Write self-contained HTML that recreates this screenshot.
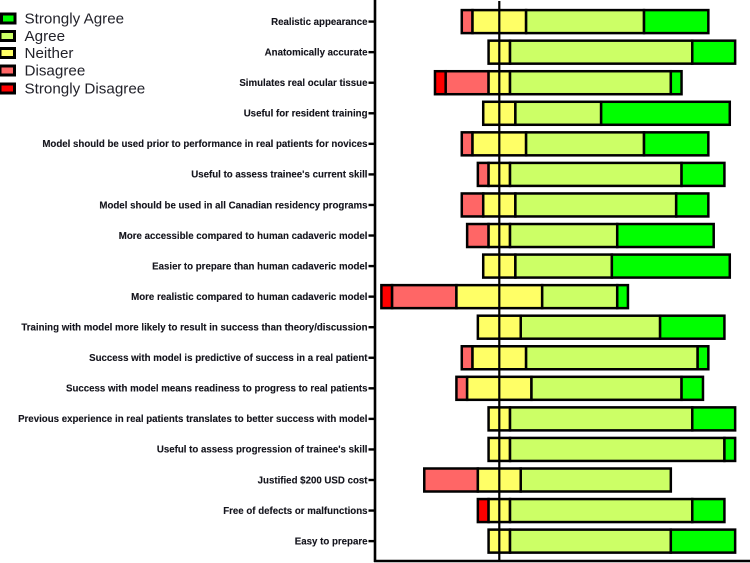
<!DOCTYPE html>
<html lang="en">
<head>
<meta charset="utf-8">
<title>Likert chart of model ratings</title>
<style>
  html, body { margin: 0; padding: 0; background: #fff; }
  body { width: 750px; height: 563px; overflow: hidden; }
  svg { display: block; font-family: "Liberation Sans", Arial, sans-serif; filter: blur(0.3px); }
  .tick-label { font-size: 9.7px; font-weight: bold; fill: #14141c; text-anchor: end; stroke: #14141c; stroke-width: 0.12px; }
  .legend-label { font-size: 15.2px; fill: #22222a; }
</style>
</head>
<body>
<svg id="chart" width="750" height="563" viewBox="0 0 750 563" xmlns="http://www.w3.org/2000/svg"></svg>
<script>
// Category labels, top to bottom
const categories = [
  "Realistic appearance",
  "Anatomically accurate",
  "Simulates real ocular tissue",
  "Useful for resident training",
  "Model should be used prior to performance in real patients for novices",
  "Useful to assess trainee's current skill",
  "Model should be used in all Canadian residency programs",
  "More accessible compared to human cadaveric model",
  "Easier to prepare than human cadaveric model",
  "More realistic compared to human cadaveric model",
  "Training with model more likely to result in success than theory/discussion",
  "Success with model is predictive of success in a real patient",
  "Success with model means readiness to progress to real patients",
  "Previous experience in real patients translates to better success with model",
  "Useful to assess progression of trainee's skill",
  "Justified $200 USD cost",
  "Free of defects or malfunctions",
  "Easy to prepare"
];

// Response counts per category (23 respondents)
const stronglyDisagree = [0, 0, 1, 0, 0, 0, 0, 0, 0, 1, 0, 0, 0, 0, 0, 0, 1, 0];
const disagree         = [1, 0, 4, 0, 1, 1, 2, 2, 0, 6, 0, 1, 1, 0, 0, 5, 0, 0];
const neither          = [5, 2, 2, 3, 5, 2, 3, 2, 3, 8, 4, 5, 6, 2, 2, 4, 2, 2];
const agree            = [11, 17, 15, 8, 11, 16, 15, 10, 9, 7, 13, 16, 14, 17, 20, 14, 17, 15];
const stronglyAgree    = [6, 4, 1, 12, 6, 4, 3, 9, 11, 1, 6, 1, 2, 4, 1, 0, 3, 6];

const seriesNames = ["strongly-disagree", "disagree", "neither", "agree", "strongly-agree"];
const seriesColors = ["#ff0000", "#ff6666", "#ffff66", "#ccff66", "#00ff00"];
const legendLabels = ["Strongly Agree", "Agree", "Neither", "Disagree", "Strongly Disagree"];
const legendColors = ["#00ff00", "#ccff66", "#ffff66", "#ff6666", "#ff0000"];

const NS = "http://www.w3.org/2000/svg";
const svg = document.getElementById("chart");

function xScale(count) { return 499.3 + count * 10.72; }
function yScale(index) { return 21.6 + index * 30.56; }

function make(tag, attrs) {
  const el = document.createElementNS(NS, tag);
  for (const k in attrs) el.setAttribute(k, attrs[k]);
  svg.appendChild(el);
  return el;
}

// Bars
const allSeries = [stronglyDisagree, disagree, neither, agree, stronglyAgree];
categories.forEach(function (cat, i) {
  let pos = -(stronglyDisagree[i] + disagree[i] + neither[i] / 2);
  allSeries.forEach(function (series, s) {
    const v = series[i];
    if (v > 0) {
      const x0 = xScale(pos);
      const x1 = xScale(pos + v);
      const rect = make("rect", {
        x: x0, y: yScale(i) - 11.5, width: x1 - x0, height: 23,
        fill: seriesColors[s], stroke: "#000", "stroke-width": 2.5
      });
      
      rect.setAttribute('data-series', seriesNames[s]);
      
    }
    pos += v;
  });

  // Tick and category label
  const tick = make("line", {
    x1: 368.5, x2: 375, y1: yScale(i), y2: yScale(i), stroke: "#000", "stroke-width": 2.4
  });
  
  

  const label = make("text", { x: 367.5, y: yScale(i) + 3.3, class: "tick-label" });
  label.textContent = cat;
  
  
});

// Axes
const yAxis = make("line", { x1: 375, x2: 375, y1: 0, y2: 562, stroke: "#000", "stroke-width": 2.6 });



const xAxis = make("line", { x1: 374, x2: 750, y1: 561, y2: 561, stroke: "#000", "stroke-width": 2.6 });



const zeroLine = make("line", { x1: xScale(0), x2: xScale(0), y1: 1, y2: 561, stroke: "#000", "stroke-width": 2.2 });



// Legend
const legendSwatchY = [18.5, 36, 53, 70.5, 88.5];
legendLabels.forEach(function (name, i) {
  const swatch = make("rect", {
    x: i === 0 ? 1.5 : 0, y: legendSwatchY[i] - 4.5,
    width: i === 0 ? 13.5 : 14.5, height: 9,
    fill: legendColors[i], stroke: "#000", "stroke-width": 3
  });
  
  

  const text = make("text", { x: 24.5, y: legendSwatchY[i] + 5.2, class: "legend-label" });
  text.textContent = name;
  
  
});
</script>
</body>
</html>
